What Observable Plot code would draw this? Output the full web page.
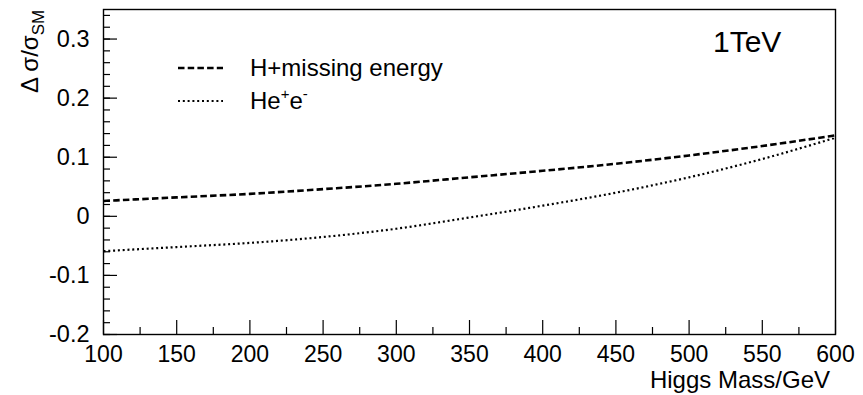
<!DOCTYPE html>
<html><head><meta charset="utf-8">
<script src="https://cdn.jsdelivr.net/npm/d3@7"></script>
<script src="https://cdn.jsdelivr.net/npm/@observablehq/plot@0.6"></script>
<style>
html,body{margin:0;padding:0;background:#fff;}
#chart svg{display:block;}
</style></head><body><div id="chart"></div>
<script>
// Data
const masses = [100, 150, 200, 250, 300, 350, 400, 450, 500, 550, 600];
const missingEnergy = [0.026, 0.032, 0.038, 0.046, 0.055, 0.066, 0.077, 0.089, 0.103, 0.119, 0.137];
const heePair = [-0.059, -0.052, -0.045, -0.035, -0.021, -0.002, 0.018, 0.040, 0.066, 0.097, 0.133];
const seriesNames = ["H+missing energy", "He+e-"];
const xMajorTicks = [100, 150, 200, 250, 300, 350, 400, 450, 500, 550, 600];
const xMinorTicks = [125, 175, 225, 275, 325, 375, 425, 475, 525, 575];
const yMajorTicks = [-0.2, -0.1, 0, 0.1, 0.2, 0.3];
const yMinorTicks = d3.range(-10, 18).map(i => i / 50);

const ff = '"Liberation Sans", Arial, Helvetica, sans-serif';
const rowsA = masses.map((m, i) => ({m, v: missingEnergy[i]}));
const rowsB = masses.map((m, i) => ({m, v: heePair[i]}));

const plot = Plot.plot({
  width: 863, height: 395,
  marginLeft: 103, marginRight: 28, marginTop: 9, marginBottom: 61,
  style: {fontFamily: ff, background: "white", color: "black", overflow: "visible"},
  x: {domain: [100, 600], label: null},
  y: {domain: [-0.2, 0.35], label: null},
  marks: [
    Plot.axisX({ticks: xMajorTicks, tickSize: -14, fill: "none", label: null, strokeWidth: 1.2}),
    Plot.axisX({ticks: xMinorTicks, tickSize: -7, fill: "none", label: null, strokeWidth: 1.2}),
    Plot.axisX({ticks: xMajorTicks, tickSize: 0, tickPadding: 11, tickFormat: d => String(d), fontSize: 23, label: null}),
    Plot.axisY({ticks: yMajorTicks, tickSize: -14, fill: "none", label: null, strokeWidth: 1.2}),
    Plot.axisY({ticks: yMinorTicks, tickSize: -7, fill: "none", label: null, strokeWidth: 1.2}),
    Plot.axisY({ticks: yMajorTicks, tickSize: 0, tickPadding: 14, tickFormat: d => String(d), fontSize: 23.5, label: null}),
    Plot.line(rowsA, {x: "m", y: "v", stroke: "black", strokeWidth: 2.6, strokeDasharray: "6.5,3.2", strokeLinecap: "butt", curve: "monotone-x"}),
    Plot.line(rowsB, {x: "m", y: "v", stroke: "black", strokeWidth: 2.2, strokeDasharray: "2,2.8", strokeLinecap: "butt", curve: "monotone-x"}),
    Plot.frame({stroke: "black", strokeWidth: 1.4})
  ]
});
document.getElementById("chart").appendChild(plot);

const svg = d3.select(plot);
// Y axis title
const yt = svg.append("text")
  .attr("transform", "translate(38,93) rotate(-90)")
  .attr("text-anchor", "start")
  .attr("font-family", ff).attr("font-size", 24).attr("fill", "black");
yt.append("tspan").text("\u0394 \u03c3/\u03c3");
yt.append("tspan").attr("font-size", 17).attr("dy", 6).text("SM");

// X axis title
svg.append("text").attr("x", 830).attr("y", 388).attr("text-anchor", "end")
  .attr("font-family", ff).attr("font-size", 24).attr("fill", "black").text("Higgs Mass/GeV");

// Energy label
svg.append("text").attr("x", 713).attr("y", 52).attr("text-anchor", "start")
  .attr("font-family", ff).attr("font-size", 30).attr("fill", "black").text("1TeV");

// Legend
const lg = svg.append("g").attr("font-family", ff).attr("font-size", 24).attr("fill", "black").attr("text-anchor", "start");
lg.append("line").attr("x1", 178).attr("x2", 223).attr("y1", 68).attr("y2", 68)
  .attr("stroke", "black").attr("stroke-width", 2.6).attr("stroke-dasharray", "6.5,3.2");
lg.append("text").attr("x", 250).attr("y", 76).text(seriesNames[0]);
lg.append("line").attr("x1", 178).attr("x2", 223).attr("y1", 101).attr("y2", 101)
  .attr("stroke", "black").attr("stroke-width", 2.2).attr("stroke-dasharray", "2,2.8");
const t2 = lg.append("text").attr("x", 250).attr("y", 109);
t2.append("tspan").text("He");
t2.append("tspan").attr("font-size", 15).attr("dy", -10).text("+");
t2.append("tspan").attr("dy", 10).text("e");
t2.append("tspan").attr("font-size", 15).attr("dy", -10).text("-");
</script></body></html>
